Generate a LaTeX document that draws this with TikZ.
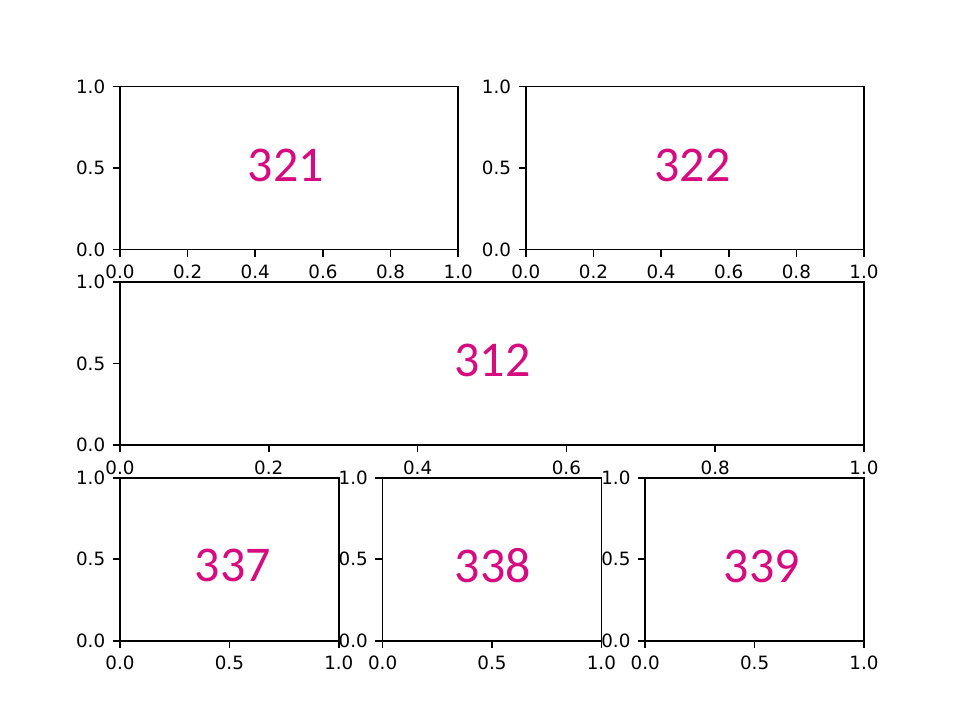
\documentclass[tikz,border=0pt]{standalone}
\usepackage{fontspec}
\setmainfont{DejaVu Sans}
\newfontfamily\calib{Carlito}
\definecolor{pinklab}{RGB}{214,11,127}
\tikzset{
  axline/.style={line width=1.67pt, line cap=rect},
  tickline/.style={line width=1.67pt},
  ticklab/.style={inner sep=0pt, font=\fontsize{18.3}{20}\selectfont},
  biglab/.style={inner sep=0pt, text=pinklab, font=\calib\fontsize{50}{60}\selectfont}
}
\newcommand\mplax[6]{%
  \foreach \f/\l [count=\i] in {#6}{
    \pgfmathsetmacro\xx{#2+\f*(#4-#2)}
    \draw[tickline] (\xx,#5) -- (\xx,#5+7.3);
    \node[ticklab,anchor=north] (#1x\i) at (\xx,#5+15.3) {\l};
  }
  \foreach \f/\l [count=\i] in {0/0.0,0.5/0.5,1/1.0}{
    \pgfmathsetmacro\yy{#5+\f*(#3-#5)}
    \draw[tickline] (#2,\yy) -- (#2-7.3,\yy);
    \node[ticklab,anchor=east] (#1y\i) at (#2-14.6,\yy) {\l};
  }
  \draw[axline] (#2,#3) coordinate (#1tl) rectangle (#4,#5) coordinate (#1br);
}
\begin{document}
\begin{tikzpicture}[x=1pt,y=-1pt]
\fill[white] (0,0) rectangle (961,720);
\useasboundingbox (0,0) rectangle (961,720);
\mplax{a}{120}{86.4}{458.2}{249.5}{0/0.0,0.2/0.2,0.4/0.4,0.6/0.6,0.8/0.8,1/1.0}
\mplax{b}{525.8}{86.4}{864}{249.5}{0/0.0,0.2/0.2,0.4/0.4,0.6/0.6,0.8/0.8,1/1.0}
\mplax{c}{120}{282.1}{864}{445.1}{0/0.0,0.2/0.2,0.4/0.4,0.6/0.6,0.8/0.8,1/1.0}
\mplax{d}{120}{477.7}{338.8}{640.8}{0/0.0,0.5/0.5,1/1.0}
\mplax{e}{382.6}{477.7}{601.4}{640.8}{0/0.0,0.5/0.5,1/1.0}
\mplax{f}{645.2}{477.7}{864}{640.8}{0/0.0,0.5/0.5,1/1.0}
\node[biglab] (l321) at (286,165.4) {321};
\node[biglab] (l322) at (692.5,165.3) {322};
\node[biglab] (l312) at (492.5,360.3) {312};
\node[biglab] (l337) at (233,565.8) {337};
\node[biglab] (l338) at (493,566) {338};
\node[biglab] (l339) at (762,566) {339};
\end{tikzpicture}
\end{document}
